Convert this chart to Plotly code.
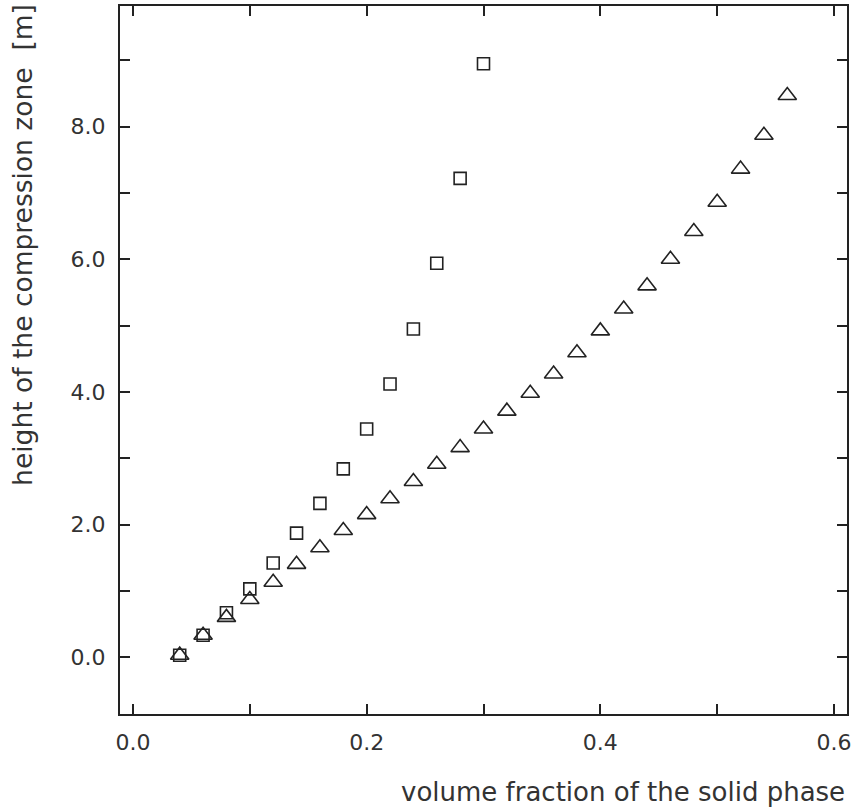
import plotly.graph_objects as go

# data
x_sq = [0.04, 0.06, 0.08, 0.10, 0.12, 0.14, 0.16, 0.18, 0.20, 0.22, 0.24, 0.26, 0.28, 0.30]
y_sq = [0.03, 0.33, 0.67, 1.03, 1.42, 1.87, 2.32, 2.84, 3.44, 4.12, 4.95, 5.94, 7.22, 8.95]

x_tri = [0.04, 0.06, 0.08, 0.10, 0.12, 0.14, 0.16, 0.18, 0.20, 0.22, 0.24, 0.26, 0.28, 0.30,
         0.32, 0.34, 0.36, 0.38, 0.40, 0.42, 0.44, 0.46, 0.48, 0.50, 0.52, 0.54, 0.56]
y_tri = [0.03, 0.33, 0.60, 0.87, 1.13, 1.40, 1.65, 1.91, 2.15, 2.39, 2.65, 2.91, 3.16, 3.44,
         3.71, 3.98, 4.27, 4.59, 4.92, 5.25, 5.60, 6.00, 6.42, 6.86, 7.36, 7.87, 8.47]

x_tickvals = [0.0, 0.1, 0.2, 0.3, 0.4, 0.5, 0.6]
x_ticktext = ["0.0", "", "0.2", "", "0.4", "", "0.6"]
y_tickvals = [0, 1, 2, 3, 4, 5, 6, 7, 8, 9]
y_ticktext = ["0.0", "", "2.0", "", "4.0", "", "6.0", "", "8.0", ""]

x_title = "volume fraction of the solid phase"
y_title = "height of the compression zone  [m]"

INK = "#222222"
TXT = "#333333"
FONT = "DejaVu Sans"

fig = go.Figure()
fig.add_trace(go.Scatter(
    x=x_sq, y=y_sq, mode="markers",
    marker=dict(symbol="square-open", size=12, color=INK, line=dict(width=1.6, color=INK)),
    showlegend=False, hoverinfo="x+y"))
fig.add_trace(go.Scatter(
    x=x_tri, y=y_tri, mode="markers",
    marker=dict(symbol="triangle-up-open", size=16, color=INK, line=dict(width=1.6, color=INK)),
    showlegend=False, hoverinfo="x+y"))

axis_common = dict(
    showgrid=False, zeroline=False, showline=True, linecolor=INK, linewidth=2,
    mirror="ticks", ticks="inside", ticklen=10, tickwidth=1.5, tickcolor=INK,
    tickfont=dict(family=FONT, size=22, color=TXT),
)

fig.update_layout(
    width=855, height=807,
    margin=dict(l=120, r=6, t=4, b=93),
    paper_bgcolor="white", plot_bgcolor="white",
    xaxis=dict(range=[-0.0111, 0.6111], tickmode="array", tickvals=x_tickvals,
               ticktext=x_ticktext, ticklabelstandoff=8, **axis_common),
    yaxis=dict(range=[-0.857, 9.82], tickmode="array", tickvals=y_tickvals,
               ticktext=y_ticktext, ticklabelstandoff=8, **axis_common),
    annotations=[
        dict(text=x_title, xref="paper", yref="paper", x=1.0, y=-0.110,
             xanchor="right", yanchor="middle", showarrow=False,
             font=dict(family=FONT, size=26, color=TXT)),
        dict(text=y_title, xref="paper", yref="paper", x=-0.1344, y=0.663,
             xanchor="center", yanchor="middle", textangle=-90, showarrow=False,
             font=dict(family=FONT, size=26.5, color=TXT)),
    ],
)

fig.write_html("out.html")
